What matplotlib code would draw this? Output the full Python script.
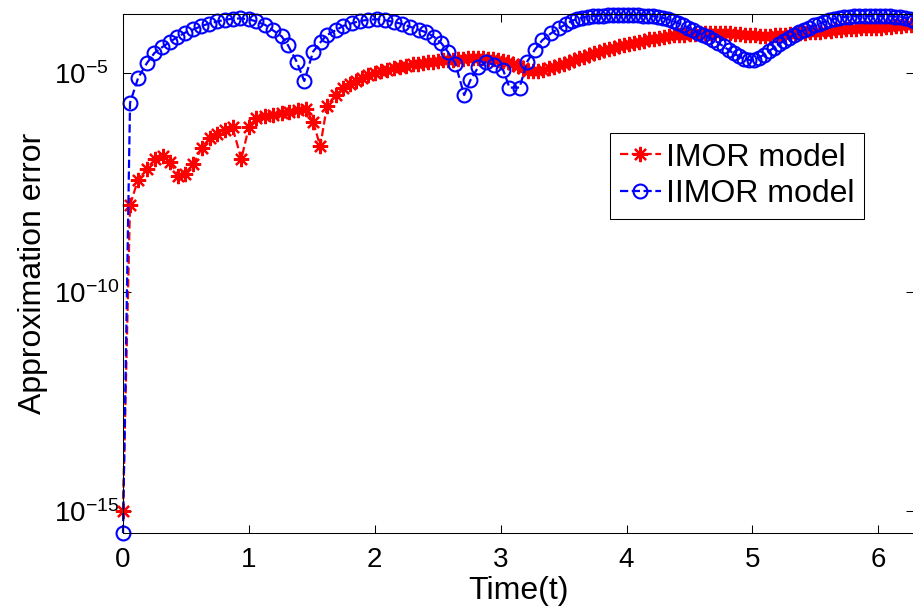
import numpy as np
import matplotlib
matplotlib.use("Agg")
import matplotlib.pyplot as plt
from matplotlib.ticker import NullLocator

plt.rcParams['font.family'] = ['Liberation Sans', 'DejaVu Sans']
plt.rcParams['mathtext.fontset'] = 'custom'
plt.rcParams['mathtext.rm'] = 'Liberation Sans'
plt.rcParams['axes.unicode_minus'] = False

# IMOR model: sample times and log10 of the approximation error
imor_t = [0, 0.056, 0.12, 0.19, 0.255, 0.316, 0.374, 0.435, 0.49, 0.56,
          0.626, 0.69, 0.75, 0.81, 0.87, 0.94, 1.0, 1.06, 1.13, 1.19,
          1.26, 1.32, 1.39, 1.45, 1.51, 1.567, 1.62, 1.69, 1.75,
          1.80, 1.85, 1.90, 1.95, 2.00, 2.05, 2.10, 2.15, 2.20, 2.25, 2.30,
          2.34, 2.38, 2.42, 2.46, 2.50, 2.54, 2.58, 2.62, 2.66, 2.70,
          2.74, 2.78, 2.82, 2.86, 2.90, 2.94, 2.98, 3.02, 3.06, 3.10,
          3.14, 3.18, 3.22, 3.26, 3.30, 3.34, 3.38, 3.42, 3.46, 3.50,
          3.54, 3.58, 3.62, 3.66, 3.70, 3.74, 3.78, 3.82, 3.86, 3.90,
          3.94, 3.98, 4.02, 4.06, 4.10, 4.14, 4.18, 4.22, 4.26, 4.30,
          4.34, 4.38, 4.42, 4.46, 4.50, 4.54, 4.58, 4.62, 4.66, 4.70,
          4.74, 4.78, 4.82, 4.86, 4.90, 4.94, 4.98, 5.02, 5.06, 5.10,
          5.14, 5.18, 5.22, 5.26, 5.30, 5.34, 5.38, 5.42, 5.46, 5.50,
          5.54, 5.58, 5.62, 5.66, 5.70, 5.74, 5.78, 5.82, 5.86, 5.90,
          5.94, 5.98, 6.02, 6.06, 6.10, 6.14, 6.18, 6.22, 6.26]
imor_log_err = [-15.0, -8.01, -7.43, -7.18, -6.97, -6.89, -7.02, -7.34, -7.31, -7.08,
                -6.70, -6.48, -6.38, -6.29, -6.24, -6.96, -6.23, -6.03, -5.98, -5.95,
                -5.92, -5.88, -5.84, -5.81, -6.11, -6.67, -5.75, -5.50, -5.35,
                -5.24, -5.17, -5.11, -5.05, -5.00, -4.96, -4.92, -4.89, -4.86, -4.83, -4.80,
                -4.78, -4.76, -4.75, -4.74, -4.72, -4.71, -4.70, -4.69, -4.68, -4.67,
                -4.66, -4.66, -4.66, -4.66, -4.67, -4.68, -4.70, -4.72, -4.75, -4.78,
                -4.83, -4.89, -4.94, -4.95, -4.94, -4.92, -4.89, -4.86, -4.82, -4.78,
                -4.74, -4.70, -4.66, -4.63, -4.59, -4.55, -4.51, -4.48, -4.45, -4.42,
                -4.39, -4.36, -4.34, -4.31, -4.29, -4.26, -4.23, -4.21, -4.19, -4.17,
                -4.16, -4.14, -4.13, -4.12, -4.11, -4.10, -4.09, -4.09, -4.08, -4.08,
                -4.08, -4.09, -4.09, -4.10, -4.11, -4.12, -4.13, -4.14, -4.15, -4.15,
                -4.15, -4.14, -4.13, -4.12, -4.11, -4.10, -4.09, -4.08, -4.07, -4.06,
                -4.05, -4.04, -4.03, -4.02, -4.01, -4.00, -4.00, -3.99, -3.98, -3.98,
                -3.97, -3.96, -3.96, -3.95, -3.94, -3.93, -3.92, -3.91, -3.90]

# IIMOR model: sample times and log10 of the approximation error
iimor_t = [0, 0.056, 0.12, 0.19, 0.25, 0.31, 0.37, 0.43, 0.49, 0.56,
           0.62, 0.68, 0.75, 0.81, 0.87, 0.93, 1.0, 1.06, 1.13, 1.19,
           1.26, 1.31, 1.38, 1.44, 1.51, 1.57, 1.62, 1.69, 1.75, 1.82,
           1.88, 1.95, 2.02, 2.08, 2.15, 2.22, 2.28, 2.35, 2.41, 2.47,
           2.53, 2.58, 2.64, 2.71, 2.76, 2.82, 2.885, 2.95, 3.02, 3.07,
           3.15, 3.21, 3.27, 3.33, 3.40, 3.46, 3.52, 3.57,
           3.61, 3.65, 3.69, 3.73, 3.77, 3.81, 3.85, 3.89, 3.93, 3.97,
           4.01, 4.05, 4.09, 4.13, 4.17, 4.21, 4.25, 4.29, 4.33, 4.37,
           4.41, 4.45, 4.49, 4.53, 4.57, 4.61, 4.65, 4.69, 4.73, 4.77,
           4.81, 4.85, 4.89, 4.93, 4.97, 5.01, 5.05, 5.09, 5.13, 5.17,
           5.21, 5.25, 5.29, 5.33, 5.37, 5.41, 5.45, 5.49, 5.53, 5.57,
           5.61, 5.65, 5.69, 5.73, 5.77, 5.81, 5.85, 5.89, 5.93, 5.97,
           6.01, 6.05, 6.09, 6.13, 6.17, 6.21, 6.25, 6.28]
iimor_log_err = [-15.5, -5.68, -5.11, -4.77, -4.54, -4.41, -4.29, -4.18, -4.08, -4.00,
                 -3.93, -3.87, -3.82, -3.78, -3.76, -3.75, -3.77, -3.82, -3.90, -4.02,
                 -4.16, -4.36, -4.74, -5.18, -4.51, -4.29, -4.13, -4.02, -3.92, -3.86,
                 -3.81, -3.78, -3.77, -3.79, -3.83, -3.88, -3.94, -4.01, -4.07, -4.17,
                 -4.32, -4.51, -4.78, -5.50, -5.16, -4.87, -4.74, -4.82, -4.93, -5.33,
                 -5.33, -4.74, -4.47, -4.25, -4.09, -3.98, -3.88, -3.80,
                 -3.76, -3.73, -3.71, -3.70, -3.69, -3.69, -3.68, -3.68, -3.68, -3.68,
                 -3.68, -3.68, -3.68, -3.69, -3.69, -3.70, -3.72, -3.74, -3.77, -3.81,
                 -3.86, -3.91, -3.96, -4.02, -4.08, -4.13, -4.18, -4.24, -4.31, -4.39,
                 -4.47, -4.55, -4.61, -4.67, -4.70, -4.69, -4.65, -4.58, -4.50, -4.42,
                 -4.34, -4.26, -4.19, -4.12, -4.06, -4.01, -3.96, -3.91, -3.87, -3.83,
                 -3.79, -3.76, -3.74, -3.72, -3.71, -3.70, -3.70, -3.70, -3.70, -3.70,
                 -3.70, -3.70, -3.70, -3.71, -3.71, -3.73, -3.77, -3.82]

y_ticks = [1e-15, 1e-10, 1e-5]
y_tick_labels = [r'$\mathregular{10^{-15}}$', r'$\mathregular{10^{-10}}$', r'$\mathregular{10^{-5}}$']
x_ticks = [0, 1, 2, 3, 4, 5, 6]


def plot_errors(out_file="out.png"):
    fig = plt.figure(figsize=(9.13, 6.07), dpi=100)
    ax = fig.add_axes([0.1347, 0.1219, 0.8664, 0.8550])

    ax.semilogy(imor_t, 10.0 ** np.array(imor_log_err), color='#ff0000',
                linestyle='--', linewidth=1.6, marker=(8, 2, 0), markersize=11,
                markeredgewidth=1.6, label='IMOR model', clip_on=False)
    ax.semilogy(iimor_t, 10.0 ** np.array(iimor_log_err), color='#0000ff',
                linestyle='--', linewidth=1.6, marker='o', markersize=10,
                markerfacecolor='none', markeredgewidth=1.5,
                label='IIMOR model', clip_on=False)

    ax.set_xlim(0, 2 * np.pi)
    ax.set_ylim(10 ** -15.5, 10 ** -3.65)
    ax.set_xticks(x_ticks)
    ax.set_yticks(y_ticks)
    ax.set_yticklabels(y_tick_labels)
    ax.yaxis.set_minor_locator(NullLocator())

    ax.tick_params(direction='in', top=True, right=True, length=5.5,
                   width=0.75, labelsize=20)
    ax.tick_params(axis='x', pad=10)
    ax.tick_params(axis='y', pad=50)
    for lbl in ax.get_yticklabels():
        lbl.set_horizontalalignment('left')
    for sp in ax.spines.values():
        sp.set_linewidth(0.75)

    ax.set_xlabel('Time(t)', fontsize=23, labelpad=2)
    ax.set_ylabel('Approximation error', fontsize=23, labelpad=4)

    leg = ax.legend(loc='upper right', bbox_to_anchor=(0.9367, 0.7707),
                    borderaxespad=0, fontsize=23, handlelength=1.3,
                    handletextpad=0.15, labelspacing=0.2, borderpad=0.3,
                    fancybox=False, framealpha=1, edgecolor='black')
    leg.get_frame().set_linewidth(0.75)

    fig.savefig(out_file, dpi=100)
    plt.close(fig)


if __name__ == "__main__":
    plot_errors()
